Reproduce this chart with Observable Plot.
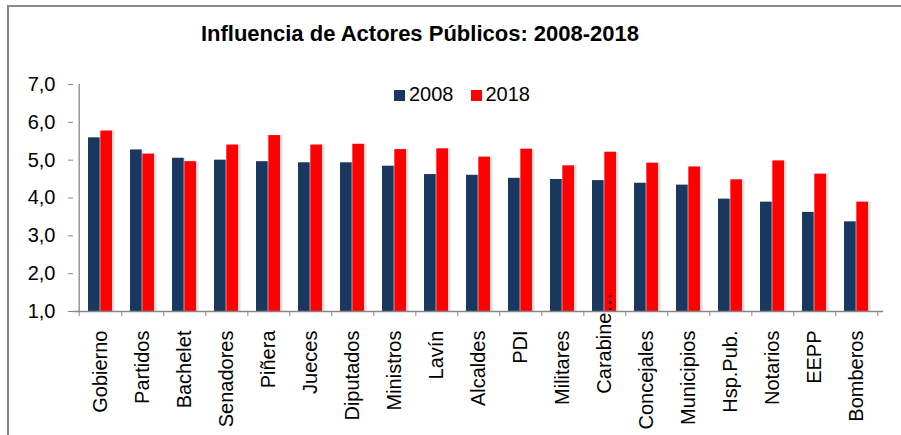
<!DOCTYPE html>
<html>
<head>
<meta charset="utf-8">
<script src="https://cdn.jsdelivr.net/npm/d3@7"></script>
<script src="https://cdn.jsdelivr.net/npm/@observablehq/plot@0.6"></script>
<style>
  html, body { margin: 0; padding: 0; background: #fff; }
  #wrap { position: relative; width: 901px; height: 435px; overflow: hidden; font-family: "Liberation Sans", Arial, sans-serif; }
  #frame { position: absolute; left: 7px; top: 5px; width: 905px; height: 440px; border-left: 2px solid #878787; border-top: 2px solid #8a8a8a; box-sizing: border-box; }
  #chart { position: absolute; left: 0; top: 0; }
  #title { position: absolute; left: 0; width: 840px; top: 23px; text-align: center; font-weight: bold; font-size: 22px; line-height: 22px; color: #000; }
  #legend { position: absolute; top: 84px; left: 394px; font-size: 20px; line-height: 20px; color: #000; white-space: nowrap; }
  #legend span.sw { display: inline-block; width: 11px; height: 11px; vertical-align: 0px; margin-right: 4px; }
  #legend span.item { display: inline-block; }
</style>
</head>
<body>
<div id="wrap">
  <div id="frame"></div>
  <div id="chart"></div>
  <div id="title">Influencia de Actores Públicos: 2008-2018</div>
  <div id="legend"></div>
</div>
<script>
const categories = ["Gobierno","Partidos","Bachelet","Senadores","Piñera","Jueces","Diputados","Ministros","Lavín","Alcaldes","PDI","Militares","Carabineros","Concejales","Municipios","Hsp.Pub.","Notarios","EEPP","Bomberos"];
const tickLabels = ["Gobierno","Partidos","Bachelet","Senadores","Piñera","Jueces","Diputados","Ministros","Lavín","Alcaldes","PDI","Militares","Carabine…","Concejales","Municipios","Hsp.Pub.","Notarios","EEPP","Bomberos"];
const series = ["2008","2018"];
const values2008 = [5.59,5.27,5.05,5.00,4.96,4.93,4.93,4.84,4.62,4.60,4.52,4.49,4.46,4.39,4.34,3.97,3.89,3.62,3.37];
const values2018 = [5.77,5.16,4.96,5.40,5.65,5.40,5.42,5.28,5.30,5.08,5.29,4.85,5.21,4.92,4.82,4.48,4.98,4.63,3.89];
const yTicks = [1,2,3,4,5,6,7];

const colors = {"2008": "#1a3760", "2018": "#ff0000"};
const axisGray = "#868686";

const rows = categories.map((c, i) => ({cat: c, v2008: values2008[i], v2018: values2018[i]}));

const W = 901, H = 435, ML = 73, MR = 18, MT = 84, MB = 124;
const step = (W - ML - MR) / categories.length;
const barW = 12.3;
const half = step / 2;
const labelOf = c => tickLabels[categories.indexOf(c)];

const plot = Plot.plot({
  width: W, height: H,
  marginLeft: ML, marginRight: MR, marginTop: MT, marginBottom: MB,
  x: {type: "band", domain: categories, padding: 0},
  y: {domain: [1, 7]},
  style: {fontFamily: '"Liberation Sans", Arial, sans-serif', background: "transparent", color: "#000", overflow: "visible"},
  marks: [
    // soft shadows
    Plot.barY(rows, {x: "cat", y1: 1, y2: "v2008", fill: "#000", fillOpacity: 0.10, insetLeft: half - barW, insetRight: half, dx: 2}),
    Plot.barY(rows, {x: "cat", y1: 1, y2: "v2018", fill: "#000", fillOpacity: 0.13, insetLeft: half, insetRight: half - barW, dx: 2.5}),
    Plot.barY(rows, {x: "cat", y1: 1, y2: "v2008", fill: colors["2008"], insetLeft: half - barW, insetRight: half}),
    Plot.barY(rows, {x: "cat", y1: 1, y2: "v2018", fill: colors["2018"], insetLeft: half, insetRight: half - barW}),
    Plot.axisY({ticks: yTicks, tickFormat: d => d.toFixed(1).replace(".", ","), tickSize: 5, tickPadding: 13, fontSize: 20, stroke: axisGray, fill: "#000", label: null}),
    Plot.ruleX([categories[0]], {dx: -half, stroke: axisGray, strokeWidth: 1.3}),
    Plot.ruleY([1], {stroke: axisGray, strokeWidth: 1.3}),
    Plot.axisX({tickSize: 5, tickFormat: () => "", dx: half, stroke: axisGray, label: null}),
    Plot.axisX({ticks: [categories[0]], tickSize: 5, tickFormat: () => "", dx: -half, stroke: axisGray, label: null}),
    Plot.axisX({ticks: categories.filter(c => c !== "Carabineros"), tickSize: 0, tickRotate: -90, tickPadding: 19, fontSize: 20, tickFormat: labelOf, fill: "#000", label: null}),
    Plot.axisX({ticks: ["Carabineros"], tickSize: 0, tickRotate: -90, tickPadding: -19, fontSize: 20, tickFormat: labelOf, fill: "#000", label: null})
  ]
});
document.getElementById("chart").appendChild(plot);

const legend = document.getElementById("legend");
series.forEach((s, i) => {
  const item = document.createElement("span");
  item.className = "item";
  item.style.marginRight = i === 0 ? "17px" : "0";
  const sw = document.createElement("span");
  sw.className = "sw";
  sw.style.background = colors[s];
  item.appendChild(sw);
  item.appendChild(document.createTextNode(s));
  legend.appendChild(item);
});
</script>
</body>
</html>
